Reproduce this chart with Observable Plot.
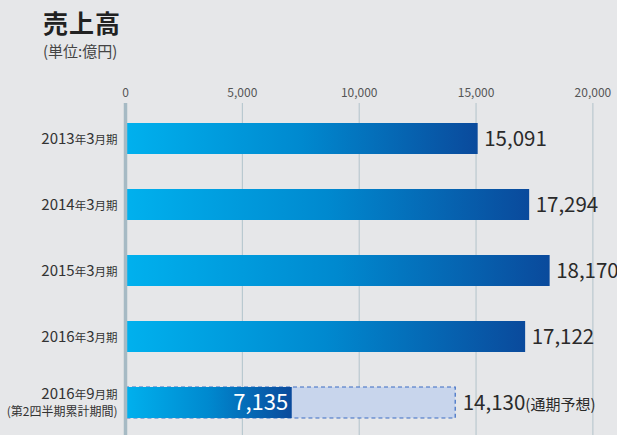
<!DOCTYPE html>
<html>
<head>
<meta charset="utf-8">
<script src="https://cdn.jsdelivr.net/npm/d3@7"></script>
<script src="https://cdn.jsdelivr.net/npm/@observablehq/plot@0.6"></script>
<style>
  html, body { margin: 0; padding: 0; background: #e6e7e9; overflow: hidden; }
  body { width: 617px; height: 435px; font-family: "Noto Sans CJK JP", sans-serif; }
  #head { position: relative; height: 70px; }
  #title { position: absolute; left: 43px; top: 4px; font-size: 25px; font-weight: bold; color: #222; letter-spacing: 1px; }
  #sub { position: absolute; left: 43px; top: 40px; font-size: 15px; color: #444; }
</style>
</head>
<body>
<div id="head"><div id="title">売上高</div><div id="sub">(単位:億円)</div></div>
<div id="chart"></div>
<script>
const periods = ["2013年3月期", "2014年3月期", "2015年3月期", "2016年3月期", "2016年9月期"];
const actual = [15091, 17294, 18170, 17122, 7135];
const forecastPeriod = "2016年9月期";
const forecastValue = 14130;
const forecastNote = "(通期予想)";
const lastNote = "(第2四半期累計期間)";
const xTicks = [0, 5000, 10000, 15000, 20000];

const fmt = d3.format(",");
const rows = periods.map((p, i) => ({period: p, value: actual[i]}));
const fullRows = rows.slice(0, 4);
const halfRow = rows.slice(4);
const forecastRows = [{period: forecastPeriod, value: forecastValue}];

const plot = Plot.plot({
  width: 617,
  height: 365,
  marginLeft: 125,
  marginRight: 24.6,
  marginTop: 33,
  marginBottom: 0,
  style: {background: "#e6e7e9", fontFamily: "Noto Sans CJK JP, sans-serif", overflow: "hidden"},
  x: {domain: [0, 20000], axis: null},
  y: {domain: periods, range: [35.5, 365.5], paddingInner: 0.53, paddingOuter: 0.265, axis: null},
  marks: [
    Plot.ruleX(xTicks.slice(1), {stroke: "#b2c3cb", strokeWidth: 1}),
    Plot.axisX({anchor: "top", ticks: xTicks, tickFormat: fmt, tickSize: 0, tickPadding: 7, fontSize: 12, color: "#555", label: null}),
    Plot.barX(forecastRows, {x: "value", y: "period", fill: "#c8d5ec", stroke: "#3b6cc4", strokeWidth: 1.2, strokeDasharray: "4,3"}),
    Plot.barX(rows, {x: "value", y: "period", fill: "url(#barGrad)"}),
    Plot.ruleX([0], {stroke: "#a6bac4", strokeWidth: 3.5}),
    Plot.text(fullRows, {x: "value", y: "period", text: d => fmt(d.value), dx: 6, textAnchor: "start", fontSize: 20.5, fill: "#2a2a2a"}),
    Plot.text(halfRow, {x: "value", y: "period", text: d => fmt(d.value), dx: -4, textAnchor: "end", fontSize: 22, fill: "#ffffff"}),
    Plot.text(forecastRows, {x: "value", y: "period", text: d => fmt(d.value) + forecastNote, dx: 7, textAnchor: "start", fontSize: 20.5, fill: "#2a2a2a"}),
    Plot.text(rows.slice(0, 4), {x: 0, y: "period", text: "period", dx: -8, textAnchor: "end", fontSize: 15, fill: "#333"}),
    Plot.text(halfRow, {x: 0, y: "period", text: "period", dx: -8, dy: -9, textAnchor: "end", fontSize: 15, fill: "#333"}),
    Plot.text(halfRow, {x: 0, y: "period", text: d => lastNote, dx: -8, dy: 9, textAnchor: "end", fontSize: 12, fill: "#333"})
  ]
});

// gradient definition for bars
const svg = d3.select(plot);
const defs = svg.insert("defs", ":first-child");
const g = defs.append("linearGradient").attr("id", "barGrad").attr("x1", "0").attr("x2", "1").attr("y1", "0").attr("y2", "0");
g.append("stop").attr("offset", "0%").attr("stop-color", "#00b1ee");
g.append("stop").attr("offset", "50%").attr("stop-color", "#0089cf");
g.append("stop").attr("offset", "100%").attr("stop-color", "#0a4a9c");

// mixed font sizes: digits large, kanji small
svg.selectAll("text").each(function () {
  const s = this.textContent;
  if (!/年|通期/.test(s) || this.querySelector("tspan")) return;
  const isValue = /通期/.test(s);
  const small = isValue ? 15 : 11.5;
  const runs = s.match(/[0-9,]+|[^0-9,]+/g);
  this.textContent = "";
  for (const r of runs) {
    const t = document.createElementNS("http://www.w3.org/2000/svg", "tspan");
    t.textContent = r;
    if (!/^[0-9,]+$/.test(r)) t.setAttribute("font-size", small);
    this.appendChild(t);
  }
});

document.getElementById("chart").appendChild(plot);
</script>
</body>
</html>
